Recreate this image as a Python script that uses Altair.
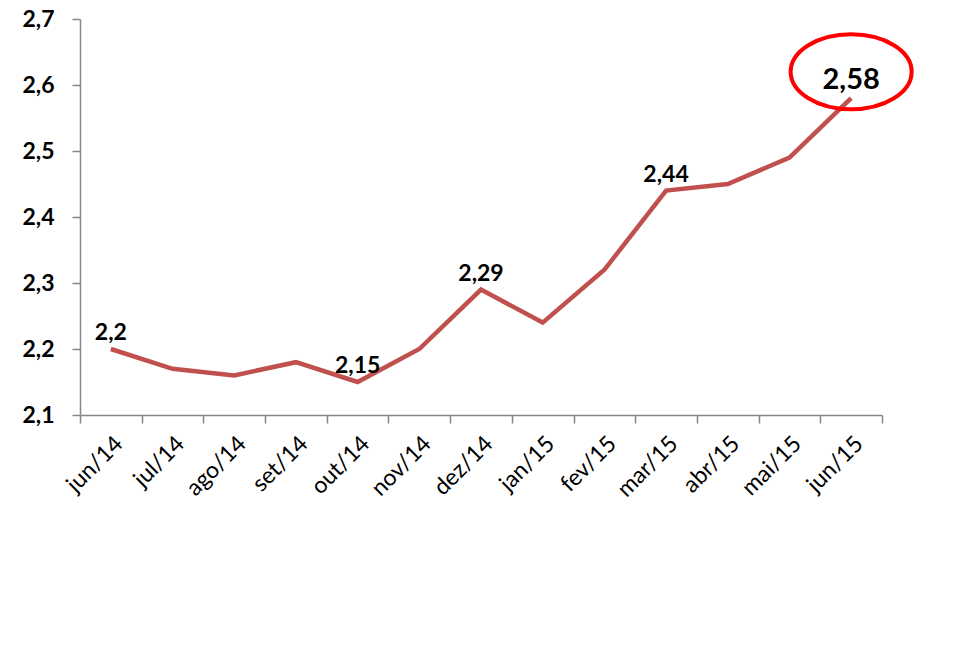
import altair as alt
import pandas as pd

months = ["jun/14", "jul/14", "ago/14", "set/14", "out/14", "nov/14", "dez/14",
          "jan/15", "fev/15", "mar/15", "abr/15", "mai/15", "jun/15"]
values = [2.20, 2.17, 2.16, 2.18, 2.15, 2.20, 2.29, 2.24, 2.32, 2.44, 2.45, 2.49, 2.58]
labels = ["2,2", "", "", "", "2,15", "", "2,29", "", "", "2,44", "", "", "2,58"]
label_sizes = [23, 23, 23, 23, 23, 23, 23, 23, 23, 23, 23, 23, 29]
y_ticks = [2.1, 2.2, 2.3, 2.4, 2.5, 2.6, 2.7]
highlight_month = ["jun/15"]
highlight_value = [2.62]

df = pd.DataFrame({"mes": months, "valor": values, "rotulo": labels, "fs": label_sizes})
lab_df = df[df["rotulo"] != ""]
hl_df = pd.DataFrame({"mes": highlight_month, "valor": highlight_value})

FONT = "Lato"

x = alt.X("mes:N", sort=months, title=None,
          scale=alt.Scale(paddingInner=0, paddingOuter=0),
          axis=alt.Axis(labelAngle=-45, labelFontSize=23, labelFont=FONT, labelColor="#000000",
                        tickBand="extent", tickSize=8, tickColor="#878787", domainColor="#878787",
                        tickWidth=1.5, domainWidth=1.5, labelPadding=9, labelOverlap=False))
y = alt.Y("valor:Q", title=None,
          scale=alt.Scale(domain=[2.1, 2.7], nice=False, zero=False),
          axis=alt.Axis(values=y_ticks, labelFontSize=23, labelFont=FONT, labelFontWeight="bold",
                        labelColor="#000000", labelExpr="replace(format(datum.value, '.1f'), '.', ',')",
                        tickSize=8, tickColor="#878787", domainColor="#878787", tickWidth=1.5,
                        domainWidth=1.5, labelPadding=18, grid=False))

line = alt.Chart(df).mark_line(color="#C0504D", strokeWidth=4.5).encode(x=x, y=y)

text = alt.Chart(lab_df).mark_text(font=FONT, fontWeight="bold", color="#000000",
                                   baseline="alphabetic", dy=-9).encode(
    x=alt.X("mes:N", sort=months), y="valor:Q", text="rotulo:N",
    size=alt.Size("fs:Q", scale=None, legend=None))

ellipse = alt.Chart(hl_df).mark_point(
    shape="M -1 0 A 1 0.62 0 1 1 1 0 A 1 0.62 0 1 1 -1 0 Z",
    filled=False, stroke="#FF0000", strokeWidth=4, opacity=1, size=121 * 121).encode(
    x=alt.X("mes:N", sort=months), y="valor:Q")

chart = alt.layer(line, ellipse, text).properties(
    width=802, height=396,
    background="#FFFFFF",
    autosize=alt.AutoSizeParams(type="none"),
    padding={"left": 72, "top": 11, "right": 75, "bottom": 220},
).configure_view(stroke=None)

chart.save("out.html", embed_options={"renderer": "svg", "actions": False})
